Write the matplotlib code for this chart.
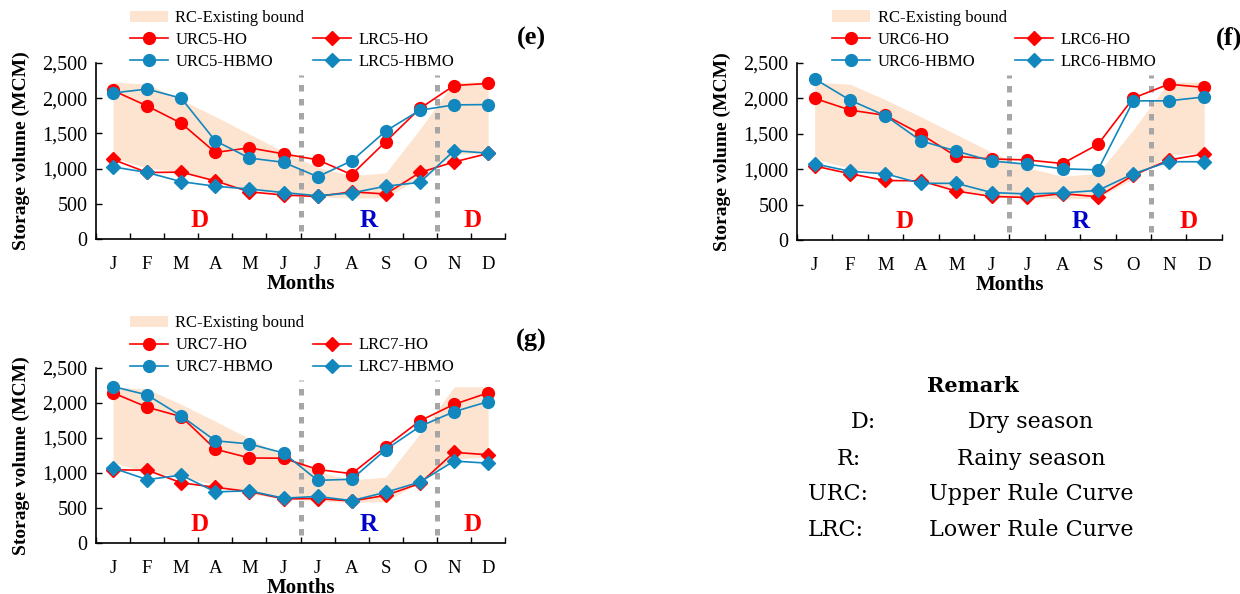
import matplotlib
matplotlib.use('Agg')
import matplotlib.pyplot as plt
from matplotlib.lines import Line2D
from matplotlib.ticker import FuncFormatter

plt.rcParams['font.family'] = ['Liberation Serif', 'DejaVu Serif']

months = ['J', 'F', 'M', 'A', 'M', 'J', 'J', 'A', 'S', 'O', 'N', 'D']

# existing rule curve band (same in every panel)
bound_upper = [2230, 2200, 1980, 1740, 1490, 1240, 1020, 900, 940, 1560, 2230, 2230]
bound_lower = [1150, 1010, 950, 830, 700, 640, 600, 580, 590, 870, 1200, 1230]

# case 5
urc5_ho = [2110, 1890, 1645, 1230, 1295, 1210, 1125, 915, 1385, 1855, 2180, 2210]
lrc5_ho = [1130, 945, 950, 825, 670, 625, 605, 670, 640, 945, 1095, 1215]
urc5_hbmo = [2075, 2130, 2000, 1395, 1150, 1090, 885, 1110, 1535, 1830, 1905, 1910]
lrc5_hbmo = [1025, 945, 815, 750, 710, 660, 615, 655, 750, 805, 1255, 1220]

# case 6
urc6_ho = [2000, 1835, 1760, 1495, 1180, 1145, 1130, 1080, 1350, 2005, 2200, 2155]
lrc6_ho = [1045, 935, 840, 835, 690, 615, 600, 655, 610, 915, 1130, 1215]
urc6_hbmo = [2275, 1975, 1755, 1400, 1255, 1115, 1070, 1005, 990, 1965, 1965, 2020]
lrc6_hbmo = [1075, 970, 935, 800, 800, 670, 650, 665, 700, 935, 1105, 1105]

# case 7
urc7_ho = [2145, 1940, 1805, 1340, 1215, 1210, 1050, 990, 1375, 1745, 1980, 2145]
lrc7_ho = [1045, 1040, 860, 795, 735, 630, 635, 600, 680, 850, 1295, 1260]
urc7_hbmo = [2235, 2115, 1815, 1460, 1415, 1285, 895, 910, 1335, 1665, 1875, 2020]
lrc7_hbmo = [1070, 905, 970, 730, 745, 640, 665, 605, 725, 870, 1170, 1140]

RED = '#FF0000'
BLUE = '#1287BE'
BAND = '#FDE4D0'
GREY = '#A6A6A6'

x = list(range(len(months)))


def draw_panel(ax, n, urc_ho, lrc_ho, urc_hb, lrc_hb):
    band = ax.fill_between(x, bound_lower, bound_upper, color=BAND, lw=0,
                           zorder=1)
    for xv in (5.5, 9.5):
        ax.plot([xv, xv], [110, 2330], color=GREY, lw=3.6,
                ls=(0, (1.3, 1.5)), zorder=2)
    l1, = ax.plot(x, urc_ho, color=RED, marker='o', ms=8.5, lw=1.2, zorder=3)
    l2, = ax.plot(x, lrc_ho, color=RED, marker='D', ms=7, lw=1.2, zorder=3)
    l3, = ax.plot(x, urc_hb, color=BLUE, marker='o', ms=8.5, lw=1.2, zorder=4)
    l4, = ax.plot(x, lrc_hb, color=BLUE, marker='D', ms=7, lw=1.2, zorder=4)

    ax.text(2.55, 260, 'D', color=RED, fontsize=18, fontweight='bold',
            ha='center', va='center')
    ax.text(7.5, 260, 'R', color='#0000CC', fontsize=18, fontweight='bold',
            ha='center', va='center')
    ax.text(10.55, 260, 'D', color=RED, fontsize=18, fontweight='bold',
            ha='center', va='center')

    ax.set_xlim(-0.5, 11.5)
    ax.set_ylim(0, 2500)
    ax.set_xticks(x)
    ax.set_xticklabels(months)
    ax.set_xticks([i + 0.5 for i in range(-1, 12)], minor=True)
    ax.tick_params(axis='x', which='major', length=0, labelsize=13.5, pad=12)
    ax.tick_params(axis='x', which='minor', direction='in', length=4, width=1)
    ax.set_yticks([0, 500, 1000, 1500, 2000, 2500])
    ax.yaxis.set_major_formatter(FuncFormatter(lambda v, p: f'{int(v):,}'))
    ax.tick_params(axis='y', direction='in', length=4, width=1,
                   labelsize=14.5, pad=6)
    for s in ('top', 'right'):
        ax.spines[s].set_visible(False)
    for s in ('left', 'bottom'):
        ax.spines[s].set_linewidth(1.2)
    ax.set_xlabel('Months', fontsize=15, fontweight='bold', labelpad=1)
    ax.set_ylabel('Storage volume (MCM)', fontsize=14, fontweight='bold',
                  labelpad=9)

    blank = Line2D([], [], color='none')
    ax.legend([band, l1, l3, blank, l2, l4],
              ['RC-Existing bound', f'URC{n}-HO', f'URC{n}-HBMO', ' ',
               f'LRC{n}-HO', f'LRC{n}-HBMO'],
              ncol=2, frameon=False, loc='upper left',
              bbox_to_anchor=(0.082, 1.30), fontsize=12,
              handlelength=2.3, handletextpad=0.45, labelspacing=0.36,
              columnspacing=0.5, borderaxespad=0, borderpad=0)


fig = plt.figure(figsize=(12.4, 5.94), dpi=100)
ax_e = fig.add_axes([0.0774, 0.5976, 0.330, 0.2963])
ax_f = fig.add_axes([0.6427, 0.5960, 0.3427, 0.2980])
ax_g = fig.add_axes([0.0774, 0.0859, 0.330, 0.2946])

draw_panel(ax_e, 5, urc5_ho, lrc5_ho, urc5_hbmo, lrc5_hbmo)
draw_panel(ax_f, 6, urc6_ho, lrc6_ho, urc6_hbmo, lrc6_hbmo)
draw_panel(ax_g, 7, urc7_ho, lrc7_ho, urc7_hbmo, lrc7_hbmo)

# panel letters
for letter, px, py in [('(e)', 531, 38), ('(f)', 1229, 38), ('(g)', 531, 340)]:
    fig.text(px / 1240, 1 - py / 594, letter, fontsize=19, fontweight='bold',
             ha='center', va='center')

# remark block
rfont = 'DejaVu Serif'
fig.text(973 / 1240, 1 - 386 / 594, 'Remark', fontsize=15, fontweight='bold',
         family=rfont, ha='center', va='center')
remark_keys = ['D:', 'R:', 'URC:', 'LRC:']
remark_vals = ['Dry season', 'Rainy season', 'Upper Rule Curve', 'Lower Rule Curve']
key_x = [863, 849, 838, 836]
row_y = [422, 459, 494, 530]
for k, v, kx, ry in zip(remark_keys, remark_vals, key_x, row_y):
    fig.text(kx / 1240, 1 - ry / 594, k, fontsize=16, family=rfont,
             ha='center', va='center')
    fig.text(1031 / 1240, 1 - ry / 594, v, fontsize=16, family=rfont,
             ha='center', va='center')

fig.savefig('out.png', dpi=100)
